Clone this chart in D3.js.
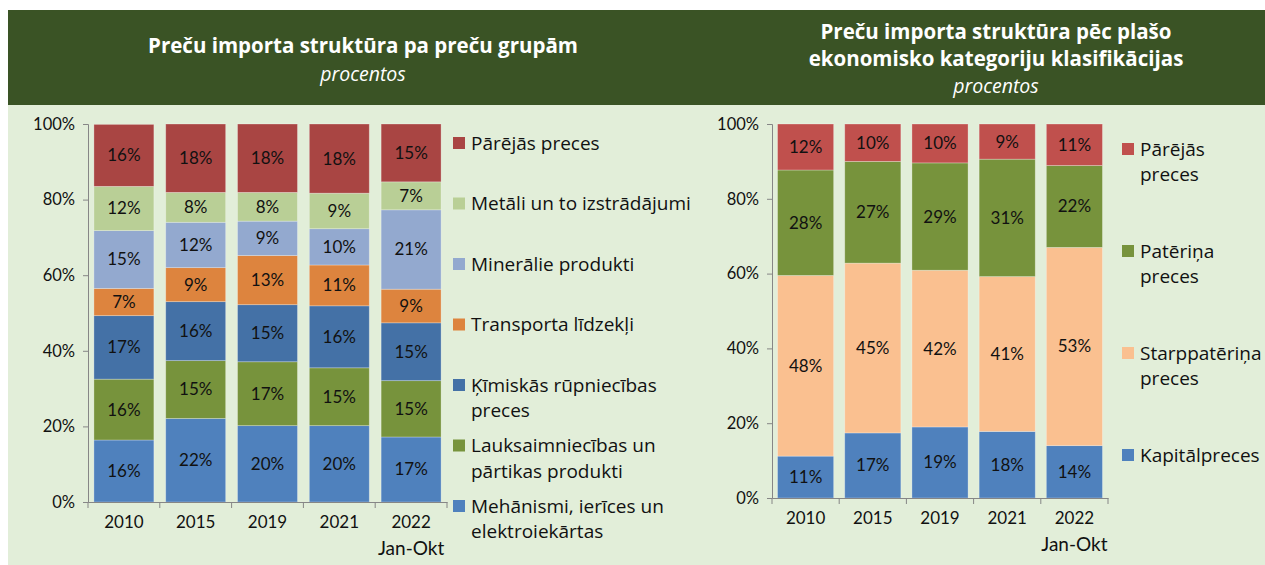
<!DOCTYPE html>
<html>
<head>
<meta charset="utf-8">
<script src="https://cdn.jsdelivr.net/npm/d3@7"></script>
<style>
  body { margin: 0; background: #fff; }
  svg { display: block; font-family: Lato, "Open Sans", sans-serif; }
</style>
</head>
<body>
<svg id="chart" width="1265" height="565"></svg>
<script>
// years on the x axis (both charts)
const years = ["2010", "2015", "2019", "2021", "2022"];
const yearSub = ["", "", "", "", "Jan-Okt"];
const yTicks = [0, 20, 40, 60, 80, 100];

// left chart: product groups, bottom to top
const groupNames = [
  ["Mehānismi, ierīces un", "elektroiekārtas"],
  ["Lauksaimniecības un", "pārtikas produkti"],
  ["Ķīmiskās rūpniecības", "preces"],
  ["Transporta līdzekļi"],
  ["Minerālie produkti"],
  ["Metāli un to izstrādājumi"],
  ["Pārējās preces"]
];
const groupColors = ["#4f81bd", "#77933c", "#4471a6", "#dd843e", "#93a9cf", "#b9cf96", "#a94543"];
const mehanismi   = [16.4, 22.1, 20.2, 20.2, 17.2];
const lauksaimn   = [16.1, 15.3, 16.9, 15.3, 14.9];
const kimiskas    = [16.8, 15.6, 15.1, 16.4, 15.3];
const transports  = [7.2, 9.0, 13.0, 10.8, 8.9];
const minerali    = [15.3, 12.0, 9.1, 9.6, 21.0];
const metali      = [11.7, 7.9, 7.6, 9.4, 7.4];
const parejasL    = [16.4, 18.1, 18.1, 18.3, 15.3];

// right chart: broad economic categories, bottom to top
const catNames = [
  ["Kapitālpreces"],
  ["Starppatēriņa", "preces"],
  ["Patēriņa", "preces"],
  ["Pārējās", "preces"]
];
const catColors = ["#4f81bd", "#fac090", "#77933c", "#c0504d"];
const kapital   = [11.2, 17.4, 19.0, 17.8, 14.0];
const starpp    = [48.3, 45.4, 41.9, 41.4, 53.0];
const pateriņa  = [28.2, 27.2, 28.7, 31.4, 21.9];
const parejasR  = [12.3, 10.0, 10.4, 9.4, 11.1];

const svg = d3.select("#chart");

// panel background + header band
svg.append("rect").attr("x", 8).attr("y", 10).attr("width", 1257).attr("height", 555).attr("fill", "#e2eed9");
svg.append("rect").attr("x", 8).attr("y", 10).attr("width", 1257).attr("height", 95).attr("fill", "#3a5325");

function title(cx, lines, subY) {
  const g = svg.append("g").attr("fill", "#fff").attr("text-anchor", "middle").attr("font-family", "'Open Sans', sans-serif");
  lines.forEach(function(l) {
    g.append("text").attr("x", cx).attr("y", l.y).attr("font-size", 20.5).attr("font-weight", "bold").text(l.t);
  });
  g.append("text").attr("x", cx).attr("y", subY).attr("font-size", 19.5).attr("font-style", "italic").text("procentos");
}
title(363, [{t: "Preču importa struktūra pa preču grupām", y: 53}], 81);
title(996, [{t: "Preču importa struktūra pēc plašo", y: 39}, {t: "ekonomisko kategoriju klasifikācijas", y: 66}], 93);

function drawChart(cfg) {
  const x = d3.scaleBand().domain(years).range([cfg.x0, cfg.x1]).paddingInner(cfg.pad).paddingOuter(cfg.pad / 2);
  const y = d3.scaleLinear().domain([0, 100]).range([cfg.y0, cfg.y1]);
  const g = svg.append("g");

  // build rows for stacking
  const rows = years.map(function(yr, i) {
    const r = {year: yr};
    cfg.series.forEach(function(s, k) { r[k] = s[i]; });
    return r;
  });
  const keys = cfg.series.map(function(s, k) { return k; });
  const stacked = d3.stack().keys(keys)(rows);

  stacked.forEach(function(layer, k) {
    const lg = g.append("g");
    lg.selectAll("rect").data(layer).enter().append("rect")
      .attr("x", function(d) { return x(d.data.year); })
      .attr("y", function(d) { return y(d[1]); })
      .attr("width", x.bandwidth())
      .attr("height", function(d) { return y(d[0]) - y(d[1]); })
      .attr("fill", cfg.colors[k])
      .attr("stroke", "rgba(255,255,255,0.35)")
      .attr("stroke-width", 0.8);
    lg.selectAll("text").data(layer).enter().append("text")
      .attr("x", function(d) { return x(d.data.year) + x.bandwidth() / 2; })
      .attr("y", function(d) { return (y(d[0]) + y(d[1])) / 2; })
      .attr("dy", "0.35em")
      .attr("text-anchor", "middle")
      .attr("font-size", 17)
      .attr("fill", "#111")
      .text(function(d) { return Math.round(d[1] - d[0]) + "%"; });
  });

  // y axis
  const ya = g.append("g").attr("transform", "translate(" + cfg.x0 + ",0)")
    .call(d3.axisLeft(y).tickValues(yTicks).tickSize(5).tickPadding(8).tickFormat(function(d) { return d + "%"; }));
  ya.selectAll("text").attr("font-size", 16.5).attr("fill", "#111").attr("font-family", "Lato, sans-serif");

  // x axis with ticks between bands
  const xa = g.append("g").attr("transform", "translate(0," + cfg.y0 + ")")
    .call(d3.axisBottom(x).tickSize(0).tickPadding(14));
  xa.selectAll("text").attr("font-size", 17).attr("fill", "#111").attr("font-family", "Lato, sans-serif");
  xa.selectAll(".tick").append("text")
    .attr("y", 40).attr("dy", "0.71em")
    .attr("font-size", 19).attr("fill", "#111").attr("font-family", "Lato, sans-serif")
    .text(function(d, i) { return yearSub[i]; });
  const step = x.step();
  d3.range(years.length + 1).forEach(function(i) {
    xa.append("line").attr("x1", cfg.x0 + i * step).attr("x2", cfg.x0 + i * step)
      .attr("y1", 0).attr("y2", 6).attr("stroke", "#868686");
  });
  g.selectAll(".domain").attr("stroke", "#868686");
  g.selectAll(".tick line").attr("stroke", "#868686");

  // legend, top item first
  const lg = g.append("g").attr("font-size", 19).attr("fill", "#111").attr("font-family", "'Open Sans', sans-serif");
  cfg.names.forEach(function(name, k) {
    const idx = cfg.names.length - 1 - k;
    const cy = cfg.legY + idx * cfg.legStep;
    lg.append("rect").attr("x", cfg.legX).attr("y", cy - 6).attr("width", 12).attr("height", 12).attr("fill", cfg.colors[k]);
    name.forEach(function(line, j) {
      lg.append("text").attr("x", cfg.legX + 18).attr("y", cy + j * 25.5).attr("dy", "0.35em").text(line);
    });
  });
}

drawChart({
  x0: 88, x1: 447, y0: 502, y1: 124, pad: 0.165,
  series: [mehanismi, lauksaimn, kimiskas, transports, minerali, metali, parejasL],
  colors: groupColors, names: groupNames,
  legX: 453, legY: 143, legStep: 60.5
});

drawChart({
  x0: 772, x1: 1108, y0: 498, y1: 124, pad: 0.165,
  series: [kapital, starpp, pateriņa, parejasR],
  colors: catColors, names: catNames,
  legX: 1122, legY: 149, legStep: 102
});
</script>
</body>
</html>
